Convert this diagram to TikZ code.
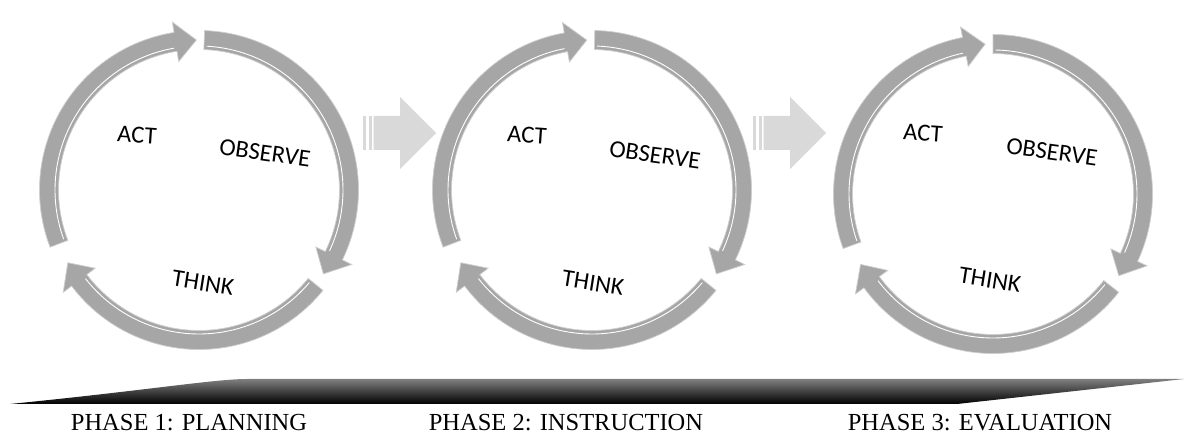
\documentclass[tikz,border=0pt]{standalone}
\usepackage{fontspec}
\setmainfont{Liberation Serif}
\newfontfamily\lblfont{Carlito}
\definecolor{bandgray}{HTML}{A6A6A6}
\definecolor{bandedge}{HTML}{CFCFCF}
\definecolor{arrowgray}{HTML}{D9D9D9}
\newcommand\cycarrow[2]{%
  \pgfmathsetmacro\hb{#2+8}%
  \path[band] (#1:159.5) arc[start angle=#1,end angle=\hb,radius=159.5]
    -- (\hb:170) -- (#2:150) -- (\hb:130) -- (\hb:140.5)
    arc[start angle=\hb,end angle=#1,radius=140.5] -- cycle;
  \draw[shine] ({#1-1}:144) arc[start angle={#1-1},end angle={\hb+1},radius=144];
}
\newcommand\blockarr{%
  \fill[blockarrow] (363,284) rectangle (366,318);
  \fill[blockarrow] (368.5,284) rectangle (371.5,318);
  \fill[blockarrow] (373.5,284) -- (400,284) -- (400,265) -- (436,301)
    -- (400,337) -- (400,318) -- (373.5,318) -- cycle;
}
\begin{document}
\begin{tikzpicture}[x=1pt,y=1pt,
  band/.style={fill=bandgray, draw=bandedge, line width=0.7pt},
  shine/.style={draw=white, line width=0.9pt},
  blockarrow/.style={fill=arrowgray},
  cyclbl/.style={font=\lblfont\fontsize{24.5}{28}\selectfont, inner sep=0pt},
  phaselbl/.style={font=\fontsize{24.5}{28}\selectfont, inner sep=0pt, text depth=0pt, anchor=base}]
\useasboundingbox (0,0) rectangle (1184,434);
\fill[white] (0,0) rectangle (1184,434);

% block arrows between the cycles
\begin{scope}\blockarr\end{scope}
\begin{scope}[xshift=390pt]\blockarr\end{scope}

% cycle 1
\begin{scope}[shift={(199,244)}]
  \cycarrow{201}{91}
  \cycarrow{88}{-34}
  \cycarrow{-39}{-151}
\end{scope}
% cycle 2
\begin{scope}[shift={(592,244)}]
  \cycarrow{201}{92}
  \cycarrow{89}{-34}
  \cycarrow{-39}{-151}
\end{scope}
% cycle 3
\begin{scope}[shift={(993,240)}]
  \cycarrow{200}{93}
  \cycarrow{90}{-33}
  \cycarrow{-38}{-152}
\end{scope}

% cycle labels
\node[cyclbl, rotate=-4] (act1) at (137,299) {ACT};
\node[cyclbl, rotate=-8] (obs1) at (265,281) {OBSERVE};
\node[cyclbl, rotate=-9] (thk1) at (203,151) {THINK};
\node[cyclbl, rotate=-4] (act2) at (527,299) {ACT};
\node[cyclbl, rotate=-8] (obs2) at (655,279) {OBSERVE};
\node[cyclbl, rotate=-9] (thk2) at (593,151) {THINK};
\node[cyclbl, rotate=-4] (act3) at (923,301) {ACT};
\node[cyclbl, rotate=-8] (obs3) at (1052,282) {OBSERVE};
\node[cyclbl, rotate=-9] (thk3) at (990,154) {THINK};

% timeline bar
\shade[top color=black!50, middle color=black!97, bottom color=black]
  (10,30) .. controls (150,44) and (215,55) .. (247,55)
  -- (1184,55) -- (957,30) -- cycle;

% phase labels
\node[phaselbl] (p1) at (189,3) {PHASE 1: PLANNING};
\node[phaselbl] (p2) at (566,3) {PHASE 2: INSTRUCTION};
\node[phaselbl] (p3) at (980,3) {PHASE 3: EVALUATION};
\end{tikzpicture}
\end{document}
